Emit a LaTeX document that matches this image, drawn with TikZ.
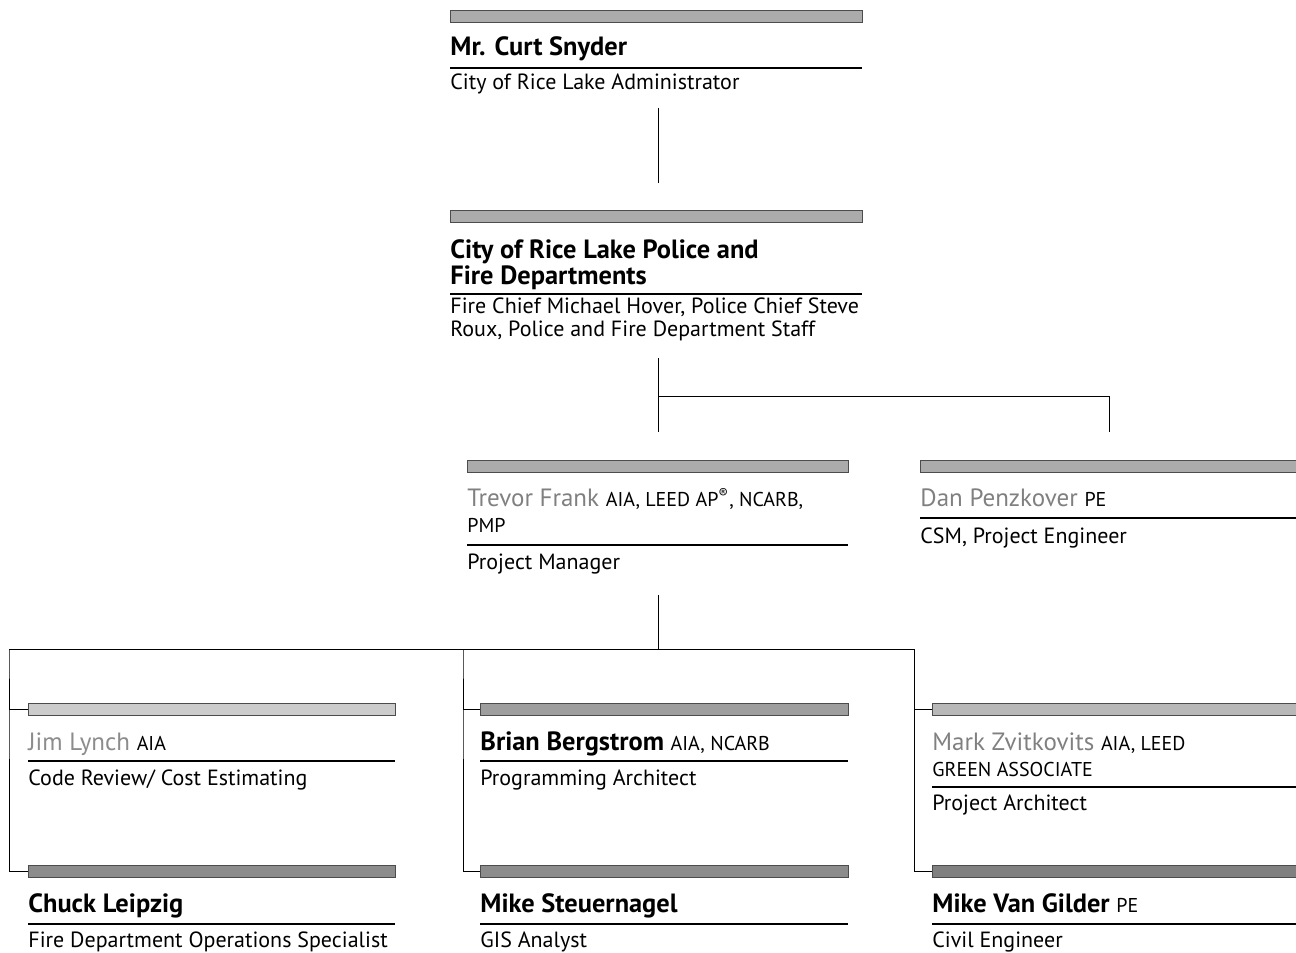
\documentclass[tikz,border=0pt]{standalone}
\usepackage{fontspec}
\setmainfont{PT Sans}
\usetikzlibrary{positioning}

\newcommand{\cred}[1]{{\mdseries\fontsize{10}{11}\selectfont\color{black}#1}}

\begin{document}
\begin{tikzpicture}[x=0.5pt,y=-0.5pt,
  bar/.style={draw=black!70, line width=0.4pt, fill=black!33, minimum height=6pt, inner sep=0pt, anchor=north west},
  who/.style={anchor=base west, inner sep=0pt, align=left, font=\bfseries\fontsize{13.2}{13}\selectfont},
  whogrey/.style={who, text=black!50, font=\fontsize{12.5}{13}\selectfont},
  role/.style={anchor=base west, inner sep=0pt, align=left, font=\fontsize{11}{11.5}\selectfont},
  rule/.style={line width=0.6pt},
  link/.style={line width=0.5pt}]
\useasboundingbox (0,0) rectangle (1296,953);

% top: administrator
\node[bar, minimum width=206pt] (snyderbar) at (450,10) {};
\node[who] (snyder) at (450,55) {Mr. Curt Snyder};
\draw[rule] (450,68) -- (862,68);
\node[role] (snyderrole) at (450,89) {City of Rice Lake Administrator};

% departments (base = last line)
\node[bar, minimum width=206pt] (deptbar) at (450,210) {};
\node[who] (dept) at (450,284) {City of Rice Lake Police and\\Fire Departments};
\draw[rule] (450,294) -- (862,294);
\node[role] (deptrole) at (450,336) {Fire Chief Michael Hover, Police Chief Steve\\Roux, Police and Fire Department Staff};

% project manager and engineer
\node[bar, minimum width=190.5pt] (frankbar) at (467,460) {};
\node[whogrey] (frank) at (467,532) {Trevor Frank \cred{AIA, LEED AP\textsuperscript{®}, NCARB,}\\\cred{PMP}};
\draw[rule] (467,545) -- (848,545);
\node[role] (frankrole) at (467,569) {Project Manager};

\node[bar, minimum width=190pt] (penzbar) at (920,460) {};
\node[whogrey] (penz) at (920,506) {Dan Penzkover \cred{PE}};
\draw[rule] (920,518) -- (1296,518);
\node[role] (penzrole) at (920,543) {CSM, Project Engineer};

% team, first row
\node[bar, minimum width=183.5pt, fill=black!20] (lynchbar) at (28,703) {};
\node[whogrey, text=black!45] (lynch) at (28,750) {Jim Lynch \cred{AIA}};
\draw[rule] (28,761) -- (395,761);
\node[role] (lynchrole) at (28,785) {Code Review/ Cost Estimating};

\node[bar, minimum width=184pt, fill=black!38] (bergbar) at (480,703) {};
\node[who] (berg) at (480,750) {Brian Bergstrom \cred{AIA, NCARB}};
\draw[rule] (480,761) -- (848,761);
\node[role] (bergrole) at (480,785) {Programming Architect};

\node[bar, minimum width=184pt, fill=black!28] (zvitbar) at (932,703) {};
\node[whogrey] (zvit) at (932,776) {Mark Zvitkovits \cred{AIA, LEED}\\\cred{GREEN ASSOCIATE}};
\draw[rule] (932,787) -- (1296,787);
\node[role] (zvitrole) at (932,810) {Project Architect};

% team, second row
\node[bar, minimum width=183.5pt, fill=black!45] (leipbar) at (28,865) {};
\node[who] (leip) at (28,912) {Chuck Leipzig};
\draw[rule] (28,924) -- (395,924);
\node[role] (leiprole) at (28,947) {Fire Department Operations Specialist};

\node[bar, minimum width=184pt, fill=black!45] (steubar) at (480,865) {};
\node[who] (steu) at (480,912) {Mike Steuernagel};
\draw[rule] (480,924) -- (848,924);
\node[role] (steurole) at (480,947) {GIS Analyst};

\node[bar, minimum width=184pt, fill=black!50] (gildbar) at (932,865) {};
\node[who] (gild) at (932,912) {Mike Van Gilder \cred{PE}};
\draw[rule] (932,924) -- (1296,924);
\node[role] (gildrole) at (932,947) {Civil Engineer};

% connectors
\coordinate (snyderout) at (658,108);
\coordinate (deptin) at (658,183);
\draw[link] (snyderout) -- (deptin);

\coordinate (deptout) at (658,358);
\coordinate (split) at (658,396);
\coordinate (frankin) at (658,432);
\coordinate (penzin) at (1109,432);
\draw[link] (deptout) -- (frankin);
\draw[link] (split) -| (penzin);

\coordinate (frankout) at (658,595);
\coordinate (colA) at (9,649);
\coordinate (colB) at (463,649);
\coordinate (colC) at (914,649);
\draw[link] (frankout) -- (frankout |- colA);
\draw[link] (colA) -- (colC);
\draw[link] (lynchbar.west) -| (colA) |- (leipbar.west);
\draw[link] (bergbar.west) -| (colB) |- (steubar.west);
\draw[link] (zvitbar.west) -| (colC) |- (gildbar.west);
\end{tikzpicture}
\end{document}
